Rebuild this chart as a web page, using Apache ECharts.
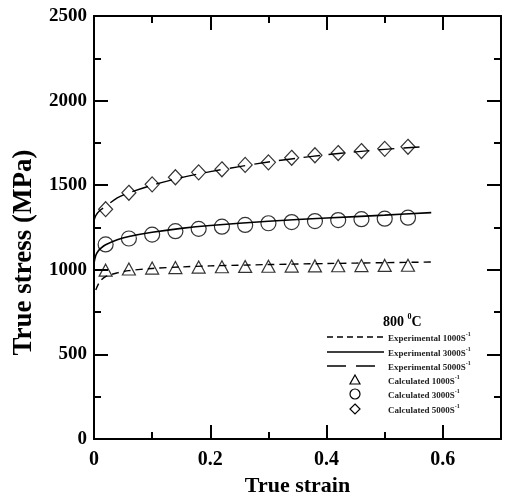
<!DOCTYPE html>
<html>
<head>
<meta charset="utf-8">
<script src="https://cdn.jsdelivr.net/npm/echarts@6/dist/echarts.min.js"></script>
<style>html,body{margin:0;padding:0;background:#fff}#c{width:507px;height:500px}</style>
</head>
<body>
<div id="c"></div>
<script>
// ---- data ----
const calcStrain = [0.02,0.06,0.10,0.14,0.18,0.22,0.26,0.30,0.34,0.38,0.42,0.46,0.50,0.54];
const calc1000 = [998,1005,1010,1013,1016,1018,1020,1021,1022,1023,1024,1025,1026,1027];
const calc3000 = [1150,1185,1208,1228,1242,1255,1265,1275,1282,1288,1294,1299,1302,1308];
const calc5000 = [1358,1455,1505,1547,1576,1594,1620,1635,1662,1677,1690,1702,1715,1727];

const exp1000Strain = [0.003,0.01,0.02,0.04,0.06,0.10,0.15,0.20,0.30,0.40,0.50,0.58];
const exp1000 = [880,930,960,982,995,1008,1017,1023,1031,1037,1042,1046];
const exp3000Strain = [0.0,0.003,0.007,0.012,0.02,0.04,0.06,0.10,0.15,0.20,0.30,0.40,0.50,0.58];
const exp3000 = [1040,1085,1110,1128,1148,1178,1197,1222,1245,1262,1287,1306,1323,1338];
const exp5000Strain = [0.0,0.003,0.01,0.02,0.04,0.06,0.10,0.15,0.20,0.25,0.30,0.35,0.40,0.45,0.50,0.57];
const exp5000 = [1290,1320,1350,1375,1425,1455,1500,1545,1580,1610,1637,1660,1680,1697,1712,1728];

const xTicks = ['0','0.2','0.4','0.6'];
const yTicks = ['0','500','1000','1500','2000','2500'];
const legendTitle = '800';
const legendNames = ['Experimental 1000S','Experimental 3000S','Experimental 5000S','Calculated 1000S','Calculated 3000S','Calculated 5000S'];

// ---- helpers ----
const zip = (xs, ys) => xs.map((x, i) => [x, ys[i]]);
const FONT = 'Liberation Serif, Times New Roman, serif';

const chart = echarts.init(document.getElementById('c'));

const lineStyleAxis = {color:'#000', width:2};
function xAxisDef(grid, pos, interval, tickLen, showLabel) {
  return {
    type:'value', gridIndex:grid, position:pos, min:0, max:0.7, interval:interval,
    axisLine:{show:true, onZero:false, lineStyle:lineStyleAxis},
    axisTick:{show:true, inside:true, length:tickLen, lineStyle:{color:'#000', width:2}},
    splitLine:{show:false},
    axisLabel:{show:showLabel, color:'#000', fontFamily:FONT, fontWeight:'bold', fontSize:20, margin:11,
      formatter: v => { const s = String(Math.round(v * 10) / 10); return xTicks.indexOf(s) >= 0 ? s : ''; }},
  };
}
function yAxisDef(grid, pos, showLabel) {
  return {
    type:'value', gridIndex:grid, position:pos, min:0, max:2500, interval:500,
    axisLine:{show:true, onZero:false, lineStyle:lineStyleAxis},
    axisTick:{show:true, inside:true, length:14, lineStyle:{color:'#000', width:2}},
    minorTick:{show:true, splitNumber:2, length:7, lineStyle:{color:'#000', width:2}},
    splitLine:{show:false}, minorSplitLine:{show:false},
    axisLabel:{show:showLabel, color:'#000', fontFamily:FONT, fontWeight:'bold', fontSize:19, margin:7,
      formatter: v => { const s = String(Math.round(v)); return yTicks.indexOf(s) >= 0 ? s : ''; }},
  };
}

// bottom axis: labels + short ticks every 0.1
const xA0 = xAxisDef(0, 'bottom', 0.1, 7, true);
xA0.name = 'True strain';
xA0.nameLocation = 'middle';
xA0.nameGap = 36;
xA0.nameTextStyle = {color:'#000', fontFamily:FONT, fontWeight:'bold', fontSize:22};

const yA0 = yAxisDef(0, 'left', true);
yA0.name = 'True stress (MPa)';
yA0.nameLocation = 'middle';
yA0.nameGap = 56;
yA0.nameTextStyle = {color:'#000', fontFamily:FONT, fontWeight:'bold', fontSize:27, padding:[0,50,0,0]};

const yHidden = {type:'value', gridIndex:1, min:0, max:2500, show:false};

const symStyle = {color:'transparent', borderColor:'#000', borderWidth:1.2};

function legendText(i, y) {
  return {
    type:'text', left:388, top:y - 6,
    style:{
      text:'{a|' + legendNames[i] + '}{s|-1}',
      rich:{
        a:{fontFamily:FONT, fontWeight:'bold', fontSize:9, fill:'#222', lineHeight:12, verticalAlign:'bottom'},
        s:{fontFamily:FONT, fontWeight:'bold', fontSize:6, fill:'#222', lineHeight:12, verticalAlign:'top'}
      }
    }
  };
}
const rowsY = [337, 352, 366, 380, 394, 409];
const graphics = [
  {type:'text', left:383, top:313, style:{
    text:'{a|' + legendTitle + ' }{s|0}{a|C}',
    rich:{
      a:{fontFamily:FONT, fontWeight:'bold', fontSize:14, fill:'#000', lineHeight:16, verticalAlign:'bottom'},
      s:{fontFamily:FONT, fontWeight:'bold', fontSize:8, fill:'#000', lineHeight:16, verticalAlign:'top'}
    }}},
  {type:'line', shape:{x1:327, y1:rowsY[0], x2:384, y2:rowsY[0]}, style:{stroke:'#000', lineWidth:1.5, lineDash:[6,4]}},
  {type:'line', shape:{x1:327, y1:rowsY[1], x2:384, y2:rowsY[1]}, style:{stroke:'#000', lineWidth:1.5}},
  {type:'line', shape:{x1:327, y1:rowsY[2], x2:384, y2:rowsY[2]}, style:{stroke:'#000', lineWidth:1.5, lineDash:[19,10]}},
  {type:'polygon', shape:{points:[[355,rowsY[3]-5],[360,rowsY[3]+4],[350,rowsY[3]+4]]}, style:{fill:'none', stroke:'#000', lineWidth:1.2}},
  {type:'circle', shape:{cx:355, cy:rowsY[4], r:5}, style:{fill:'none', stroke:'#000', lineWidth:1.2}},
  {type:'polygon', shape:{points:[[355,rowsY[5]-5],[360,rowsY[5]],[355,rowsY[5]+5],[350,rowsY[5]]]}, style:{fill:'none', stroke:'#000', lineWidth:1.2}},
];
for (let i = 0; i < 6; i++) graphics.push(legendText(i, rowsY[i]));

const gridBox = {left:94, right:6, top:16, bottom:61, containLabel:false, outerBoundsMode:'none'};

chart.setOption({
  backgroundColor:'#fff',
  animation:false,
  grid:[Object.assign({}, gridBox), Object.assign({}, gridBox)],
  xAxis:[
    xA0,
    xAxisDef(0, 'top', 0.1, 7, false),
    xAxisDef(1, 'bottom', 0.2, 14, false),
    xAxisDef(1, 'top', 0.2, 14, false),
  ],
  yAxis:[yA0, yAxisDef(0, 'right', false), yHidden],
  graphic:graphics,
  series:[
    {name:legendNames[0], type:'line', data:zip(exp1000Strain, exp1000), smooth:0.3, showSymbol:false, symbol:'none',
      lineStyle:{color:'#000', width:1.4, type:[7,5]}},
    {name:legendNames[1], type:'line', data:zip(exp3000Strain, exp3000), smooth:0.3, showSymbol:false, symbol:'none',
      lineStyle:{color:'#000', width:1.6}},
    {name:legendNames[2], type:'line', data:zip(exp5000Strain, exp5000), smooth:0.3, showSymbol:false, symbol:'none',
      lineStyle:{color:'#000', width:1.4, type:[16,9]}},
    {name:legendNames[3], type:'scatter', data:zip(calcStrain, calc1000), symbol:'triangle', symbolSize:[13,12], itemStyle:symStyle},
    {name:legendNames[4], type:'scatter', data:zip(calcStrain, calc3000), symbol:'circle', symbolSize:15, itemStyle:symStyle},
    {name:legendNames[5], type:'scatter', data:zip(calcStrain, calc5000), symbol:'diamond', symbolSize:[14,15], itemStyle:symStyle},
  ]
});
</script>
</body>
</html>
